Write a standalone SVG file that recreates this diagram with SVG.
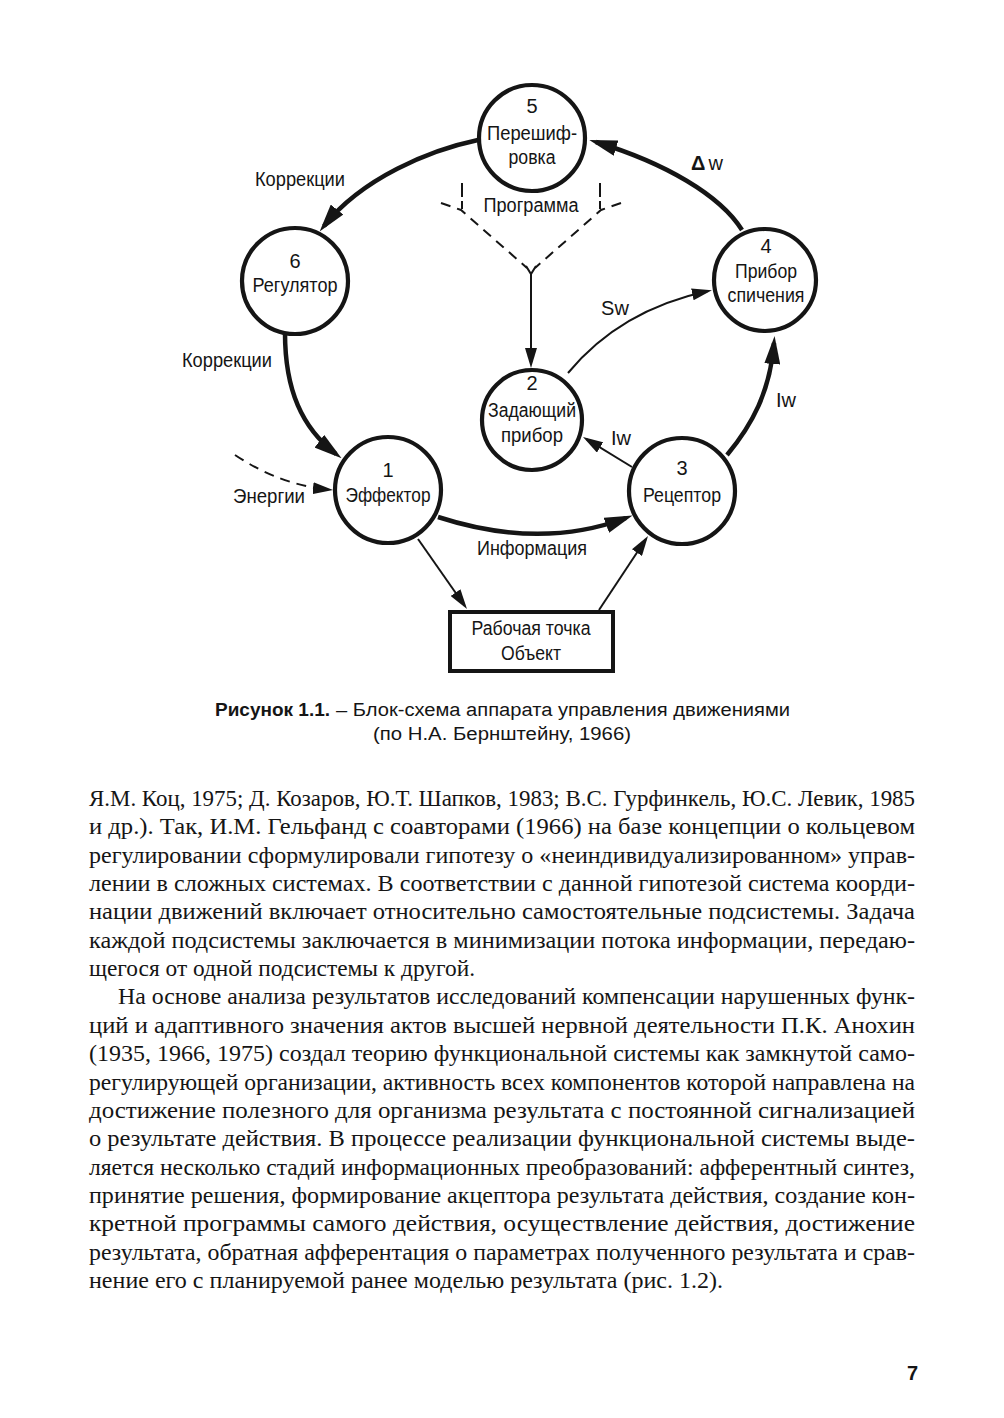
<svg xmlns="http://www.w3.org/2000/svg" width="1004" height="1418" viewBox="0 0 1004 1418">
<style>
  .node{fill:#fff;stroke:#151515;stroke-width:4.2}
  .t{font-family:"Liberation Sans",Arial,sans-serif;font-size:20px;fill:#151515;text-anchor:middle}
  .thick{fill:none;stroke:#151515;stroke-width:4.5}
  .thin{fill:none;stroke:#151515;stroke-width:2}
  .dash{fill:none;stroke:#151515;stroke-width:2;stroke-dasharray:10 7}
  .cap{font-family:"Liberation Sans",Arial,sans-serif;font-size:18px;fill:#151515}
  .body{font-family:"Liberation Serif","Times New Roman",serif;font-size:23.5px;fill:#151515}
</style>
<defs>
  <marker id="ahThick" markerUnits="userSpaceOnUse" viewBox="0 0 28 16" markerWidth="28" markerHeight="16" refX="21" refY="8" orient="auto">
    <path d="M0,0 L28,8 L0,16 z" fill="#151515"/>
  </marker>
  <marker id="ahThin" markerUnits="userSpaceOnUse" viewBox="0 0 20 12" markerWidth="20" markerHeight="12" refX="16" refY="6" orient="auto">
    <path d="M0,0 L20,6 L0,12 z" fill="#151515"/>
  </marker>
</defs>
<rect width="1004" height="1418" fill="#fff"/>

<g id="connectors">
  <path class="thick" d="M742,230 C720,195 665,163 596,142" marker-end="url(#ahThick)"/>
  <path class="thick" d="M478,140 C430,150 362,178 324,226" marker-end="url(#ahThick)"/>
  <path class="thick" d="M285,333 C285,390 302,428 336,454" marker-end="url(#ahThick)"/>
  <path class="thick" d="M438,517 Q540,550 626,518" marker-end="url(#ahThick)"/>
  <path class="thick" d="M727,455 C752,425 770,392 774,343" marker-end="url(#ahThick)"/>
  <path class="thin" d="M632,467 L586.4,439.1" marker-end="url(#ahThin)"/>
  <path class="thin" d="M568,373 Q620,310 708,291" marker-end="url(#ahThin)"/>
  <path class="thin" d="M531,274 L531,364" marker-end="url(#ahThin)"/>
  <path class="thin" d="M526,266 L531,274 L536,266"/>
  <path class="dash" d="M441,203 L461,210 L527,268"/>
  <path class="dash" d="M621,203 L601,210 L535,268"/>
  <path class="thin" d="M462,183 L462,209" stroke-dasharray="14 4"/>
  <path class="thin" d="M600,183 L600,209" stroke-dasharray="14 4"/>
  <path class="dash" d="M235,455 Q280,485 329,489.6" stroke-dasharray="12 8" marker-end="url(#ahThin)"/>
  <path class="thin" d="M418,539 L464.7,605.7" marker-end="url(#ahThin)"/>
  <path class="thin" d="M599,610 L645.8,539.3" marker-end="url(#ahThin)"/>
</g>

<g id="node-5">
  <circle class="node" cx="532" cy="138" r="53"/>
  <text class="t" x="532" y="113">5</text>
  <text class="t" x="532" y="140" textLength="90" lengthAdjust="spacingAndGlyphs">Перешиф-</text>
  <text class="t" x="532" y="164" textLength="47" lengthAdjust="spacingAndGlyphs">ровка</text>
</g>
<g id="node-6">
  <circle class="node" cx="295" cy="281" r="53"/>
  <text class="t" x="295" y="268">6</text>
  <text class="t" x="295" y="292" textLength="85" lengthAdjust="spacingAndGlyphs">Регулятор</text>
</g>
<g id="node-1">
  <circle class="node" cx="388" cy="490" r="53"/>
  <text class="t" x="388" y="477">1</text>
  <text class="t" x="388" y="502" textLength="85" lengthAdjust="spacingAndGlyphs">Эффектор</text>
</g>
<g id="node-2">
  <circle class="node" cx="532" cy="420" r="50"/>
  <text class="t" x="532" y="390">2</text>
  <text class="t" x="532" y="417" textLength="88" lengthAdjust="spacingAndGlyphs">Задающий</text>
  <text class="t" x="532" y="442" textLength="62" lengthAdjust="spacingAndGlyphs">прибор</text>
</g>
<g id="node-3">
  <circle class="node" cx="682" cy="491" r="53"/>
  <text class="t" x="682" y="475">3</text>
  <text class="t" x="682" y="502" textLength="78" lengthAdjust="spacingAndGlyphs">Рецептор</text>
</g>
<g id="node-4">
  <circle class="node" cx="765" cy="280" r="51"/>
  <text class="t" x="766" y="253">4</text>
  <text class="t" x="766" y="278" textLength="62" lengthAdjust="spacingAndGlyphs">Прибор</text>
  <text class="t" x="766" y="302" textLength="77" lengthAdjust="spacingAndGlyphs">спичения</text>
</g>
<g id="node-object">
  <rect x="450" y="612" width="163" height="59" fill="#fff" stroke="#151515" stroke-width="4"/>
  <text class="t" x="531" y="635" textLength="119" lengthAdjust="spacingAndGlyphs">Рабочая точка</text>
  <text class="t" x="531" y="660" textLength="60" lengthAdjust="spacingAndGlyphs">Объект</text>
</g>

<g id="labels">
  <text class="t" x="300" y="186" textLength="90" lengthAdjust="spacingAndGlyphs">Коррекции</text>
  <text class="t" x="227" y="367" textLength="90" lengthAdjust="spacingAndGlyphs">Коррекции</text>
  <text class="t" x="269" y="503" textLength="72" lengthAdjust="spacingAndGlyphs">Энергии</text>
  <text class="t" x="532" y="555" textLength="110" lengthAdjust="spacingAndGlyphs">Информация</text>
  <text class="t" x="531" y="212" textLength="95" lengthAdjust="spacingAndGlyphs">Программа</text>
  <text class="t" x="707" y="170"><tspan font-weight="bold">Δ</tspan><tspan dx="3">w</tspan></text>
  <text class="t" x="615" y="315">Sw</text>
  <text class="t" x="786" y="407">Iw</text>
  <text class="t" x="621" y="445">Iw</text>
</g>

<g id="caption">
  <text class="cap" x="215" y="716" font-weight="bold" textLength="115" lengthAdjust="spacingAndGlyphs">Рисунок 1.1.</text>
  <text class="cap" x="336" y="716" textLength="454" lengthAdjust="spacingAndGlyphs">– Блок-схема аппарата управления движениями</text>
  <text class="cap" x="373" y="740" textLength="258" lengthAdjust="spacingAndGlyphs">(по Н.А. Бернштейну, 1966)</text>
</g>

<g id="body-text">
  <text class="body" x="89" y="806" textLength="826" lengthAdjust="spacingAndGlyphs">Я.М. Коц, 1975; Д. Козаров, Ю.Т. Шапков, 1983; В.С. Гурфинкель, Ю.С. Левик, 1985</text>
  <text class="body" x="89" y="834.35" textLength="826" lengthAdjust="spacingAndGlyphs">и др.). Так, И.М. Гельфанд с соавторами (1966) на базе концепции о кольцевом</text>
  <text class="body" x="89" y="862.7" textLength="826" lengthAdjust="spacingAndGlyphs">регулировании сформулировали гипотезу о «неиндивидуализированном» управ-</text>
  <text class="body" x="89" y="891.05" textLength="826" lengthAdjust="spacingAndGlyphs">лении в сложных системах. В соответствии с данной гипотезой система коорди-</text>
  <text class="body" x="89" y="919.4" textLength="826" lengthAdjust="spacingAndGlyphs">нации движений включает относительно самостоятельные подсистемы. Задача</text>
  <text class="body" x="89" y="947.75" textLength="826" lengthAdjust="spacingAndGlyphs">каждой подсистемы заключается в минимизации потока информации, передаю-</text>
  <text class="body" x="89" y="976.1" textLength="386" lengthAdjust="spacingAndGlyphs">щегося от одной подсистемы к другой.</text>
  <text class="body" x="118" y="1004.45" textLength="797" lengthAdjust="spacingAndGlyphs">На основе анализа результатов исследований компенсации нарушенных функ-</text>
  <text class="body" x="89" y="1032.8" textLength="826" lengthAdjust="spacingAndGlyphs">ций и адаптивного значения актов высшей нервной деятельности П.К. Анохин</text>
  <text class="body" x="89" y="1061.15" textLength="826" lengthAdjust="spacingAndGlyphs">(1935, 1966, 1975) создал теорию функциональной системы как замкнутой само-</text>
  <text class="body" x="89" y="1089.5" textLength="826" lengthAdjust="spacingAndGlyphs">регулирующей организации, активность всех компонентов которой направлена на</text>
  <text class="body" x="89" y="1117.85" textLength="826" lengthAdjust="spacingAndGlyphs">достижение полезного для организма результата с постоянной сигнализацией</text>
  <text class="body" x="89" y="1146.2" textLength="826" lengthAdjust="spacingAndGlyphs">о результате действия. В процессе реализации функциональной системы выде-</text>
  <text class="body" x="89" y="1174.55" textLength="826" lengthAdjust="spacingAndGlyphs">ляется несколько стадий информационных преобразований: афферентный синтез,</text>
  <text class="body" x="89" y="1202.9" textLength="826" lengthAdjust="spacingAndGlyphs">принятие решения, формирование акцептора результата действия, создание кон-</text>
  <text class="body" x="89" y="1231.25" textLength="826" lengthAdjust="spacingAndGlyphs">кретной программы самого действия, осуществление действия, достижение</text>
  <text class="body" x="89" y="1259.6" textLength="826" lengthAdjust="spacingAndGlyphs">результата, обратная афферентация о параметрах полученного результата и срав-</text>
  <text class="body" x="89" y="1287.95" textLength="634" lengthAdjust="spacingAndGlyphs">нение его с планируемой ранее моделью результата (рис. 1.2).</text>
</g>

<g id="page-number">
  <text x="918" y="1380" text-anchor="end" font-family="Liberation Sans, Arial, sans-serif" font-size="20" font-weight="bold" fill="#151515">7</text>
</g>
</svg>
